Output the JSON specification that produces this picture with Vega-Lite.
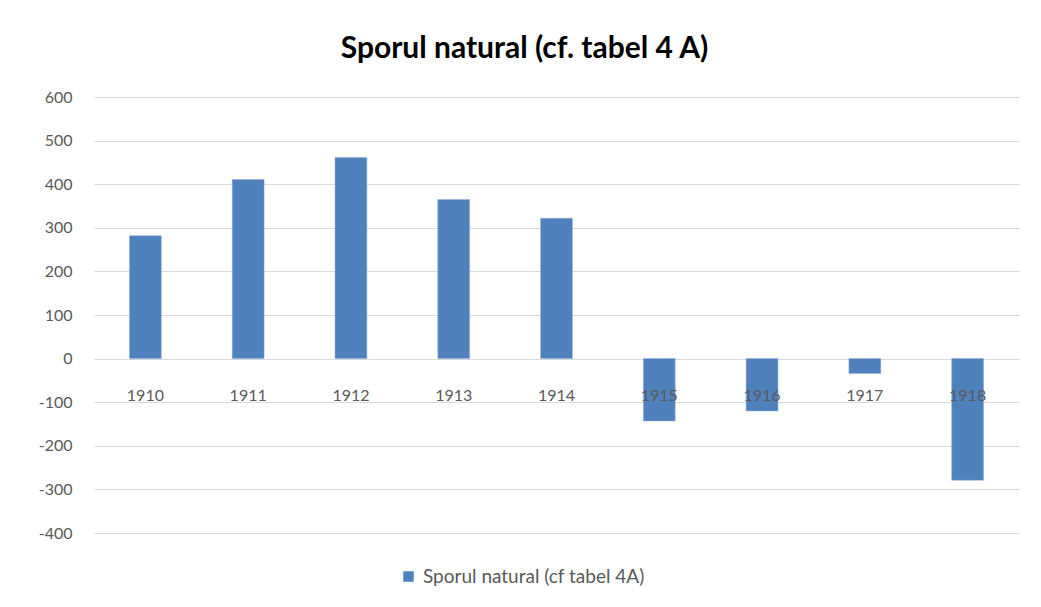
{
  "$schema": "https://vega.github.io/schema/vega-lite/v6.json",
  "width": 925,
  "height": 436,
  "autosize": {"type": "none"},
  "padding": {"left": 94, "top": 97, "right": 22, "bottom": 74},
  "background": "white",
  "title": {
    "text": "Sporul natural  (cf. tabel 4 A)",
    "font": "Lato",
    "fontSize": 30,
    "fontWeight": "bold",
    "color": "#000000",
    "anchor": "middle",
    "dx": -32,
    "offset": 25
  },
  "data": {
    "values": [
      {"an": "1910", "spor": 282, "serie": "Sporul natural (cf tabel 4A)"},
      {"an": "1911", "spor": 411, "serie": "Sporul natural (cf tabel 4A)"},
      {"an": "1912", "spor": 461, "serie": "Sporul natural (cf tabel 4A)"},
      {"an": "1913", "spor": 365, "serie": "Sporul natural (cf tabel 4A)"},
      {"an": "1914", "spor": 322, "serie": "Sporul natural (cf tabel 4A)"},
      {"an": "1915", "spor": -143, "serie": "Sporul natural (cf tabel 4A)"},
      {"an": "1916", "spor": -120, "serie": "Sporul natural (cf tabel 4A)"},
      {"an": "1917", "spor": -34, "serie": "Sporul natural (cf tabel 4A)"},
      {"an": "1918", "spor": -279, "serie": "Sporul natural (cf tabel 4A)"}
    ]
  },
  "mark": {"type": "bar", "stroke": "#8eaedb", "strokeWidth": 0.5},
  "encoding": {
    "x": {
      "field": "an",
      "type": "nominal",
      "scale": {"paddingInner": 0.69, "paddingOuter": 0.345},
      "axis": {
        "title": null,
        "labelAngle": 0,
        "domain": false,
        "ticks": false,
        "grid": false,
        "zindex": 2,
        "offset": -175,
        "labelPadding": 29,
        "labelFont": "Lato",
        "labelFontSize": 16,
        "labelColor": "#595959"
      }
    },
    "y": {
      "field": "spor",
      "type": "quantitative",
      "scale": {"domain": [-400, 600], "nice": false},
      "axis": {
        "title": null,
        "values": [-400, -300, -200, -100, 0, 100, 200, 300, 400, 500, 600],
        "labelExpr": "replace(datum.label, '\u2212', '-')",
        "domain": false,
        "ticks": false,
        "zindex": 0,
        "labelPadding": 22,
        "labelFont": "Lato",
        "labelFontSize": 16,
        "labelColor": "#595959",
        "gridColor": "#d9d9d9",
        "gridWidth": 1.2
      }
    },
    "color": {
      "field": "serie",
      "type": "nominal",
      "scale": {"range": ["#4f81bd"]},
      "legend": {
        "title": null,
        "orient": "none",
        "legendX": 305,
        "legendY": 470,
        "symbolType": "square",
        "symbolSize": 110,
        "symbolStrokeWidth": 0,
        "labelFont": "Lato",
        "labelFontSize": 19,
        "labelLimit": 500,
        "labelColor": "#595959",
        "labelOffset": 5
      }
    }
  },
  "config": {"view": {"stroke": null}}
}
